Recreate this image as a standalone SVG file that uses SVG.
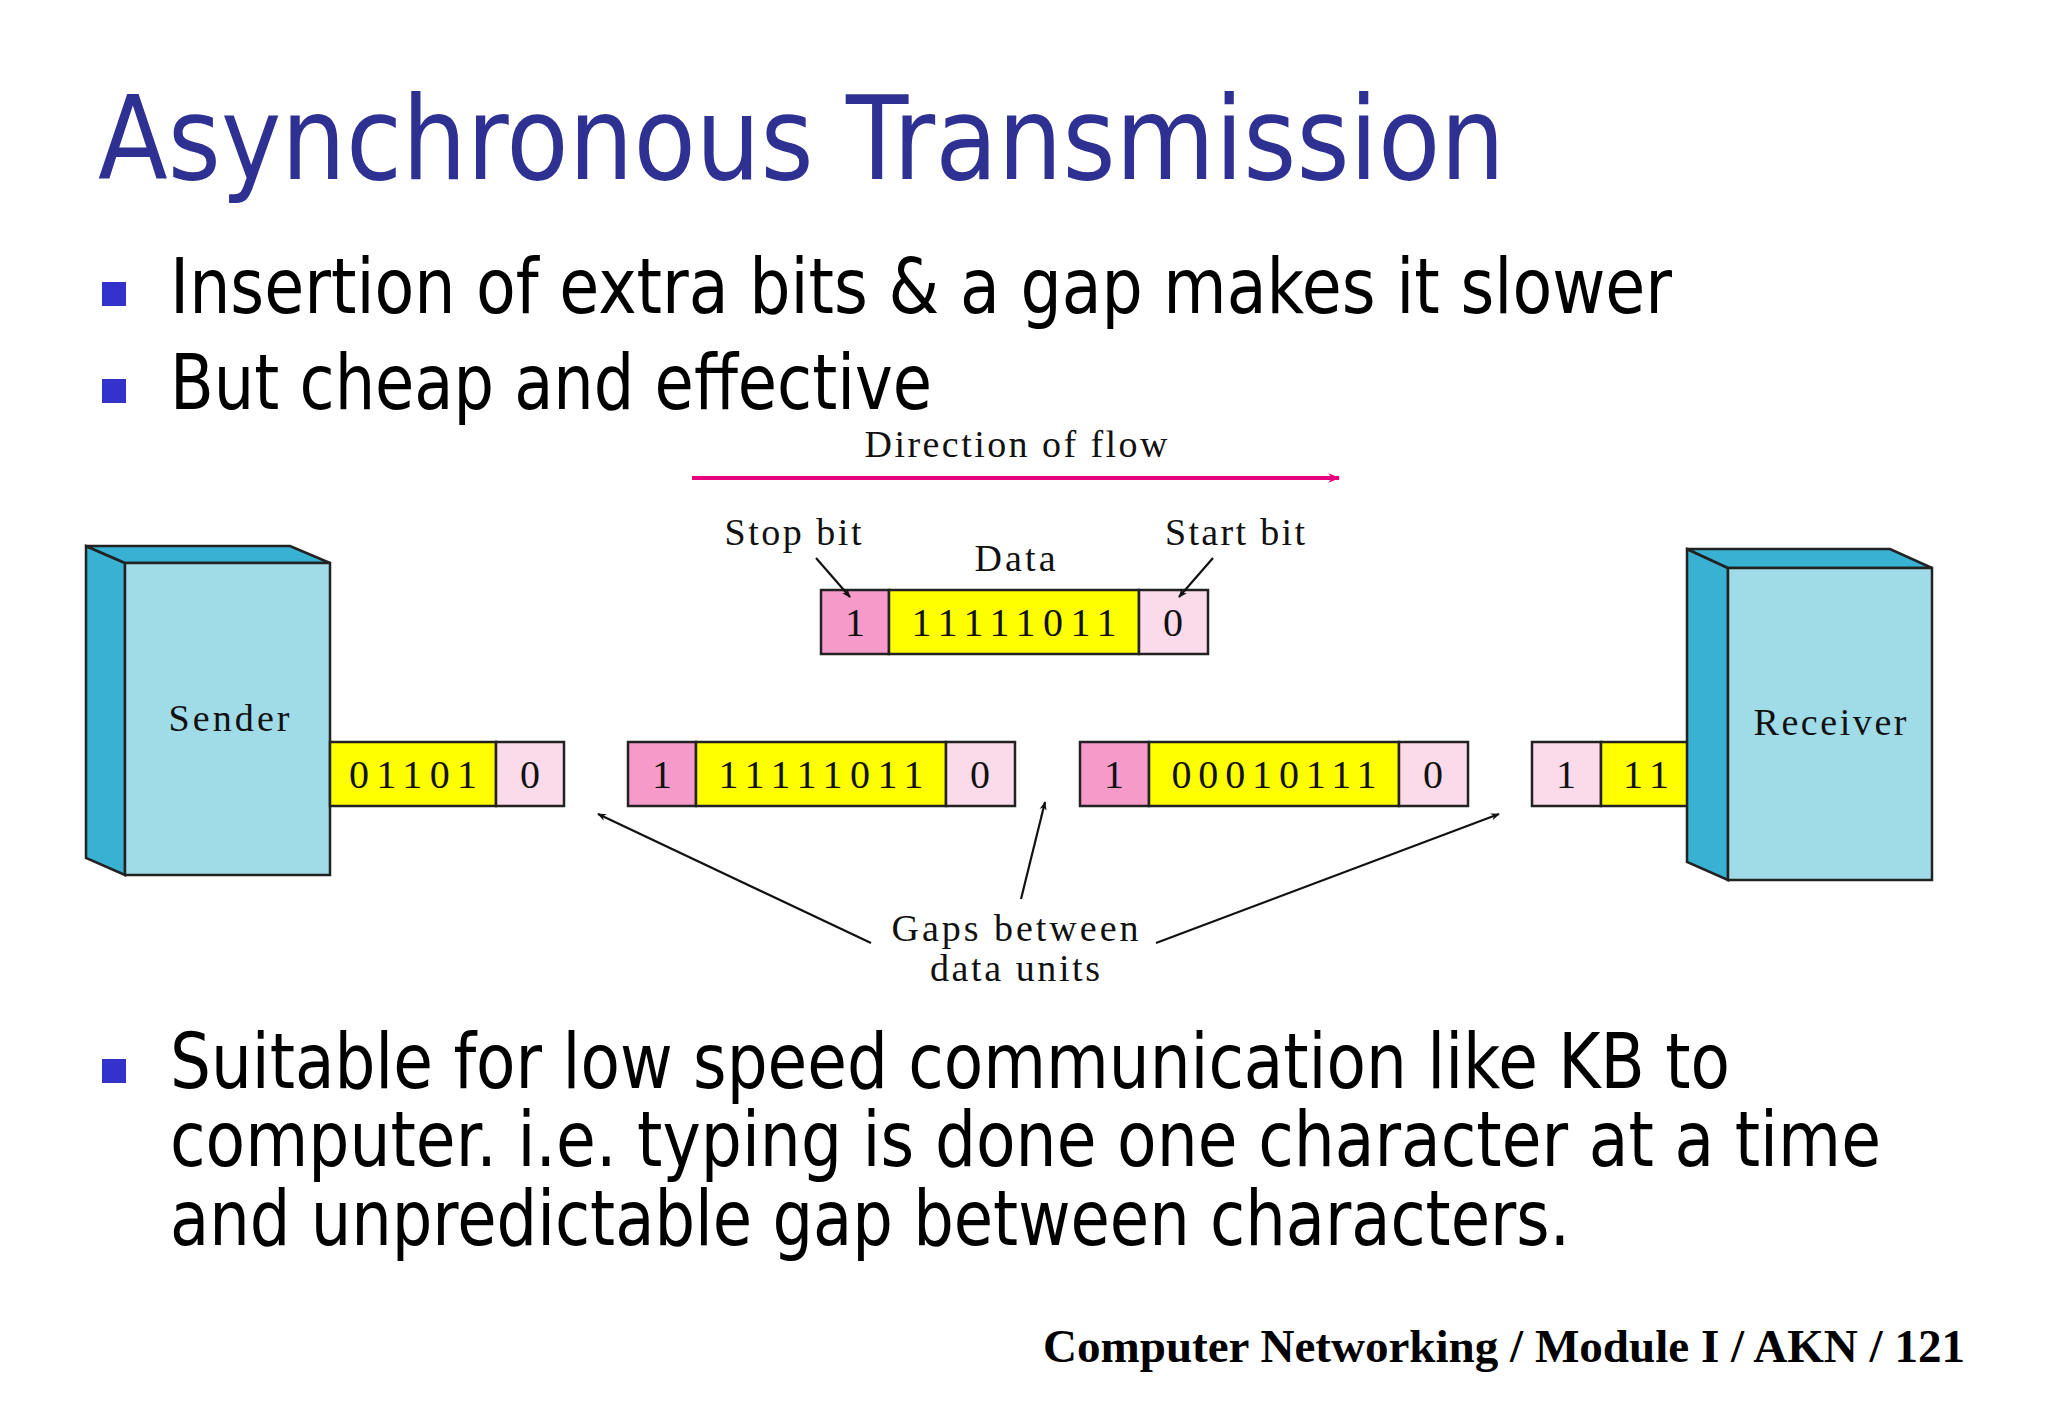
<svg xmlns="http://www.w3.org/2000/svg" width="2048" height="1418" viewBox="0 0 2048 1418">
<style>
.t{font-family:"DejaVu Sans","Open Sans",sans-serif;fill:#000}
.s{font-family:"Liberation Serif","DejaVu Serif",serif;fill:#111;font-size:38px}
.b{font-family:"Liberation Serif",serif;font-size:40px;fill:#111;text-anchor:middle}
.bx{stroke:#222;stroke-width:2.5}
.y{fill:#ffff00}.p{fill:#f59ac9}.lp{fill:#fbdaea}
.ln{stroke:#111;stroke-width:2.2;fill:none;marker-end:url(#ah)}
</style>
<defs>
<marker id="ah" viewBox="0 0 10 10" refX="9" refY="5" markerWidth="9" markerHeight="9" orient="auto" markerUnits="userSpaceOnUse"><path d="M0,1 L10,5 L0,9 L3,5 z" fill="#111"/></marker>
<marker id="ahp" viewBox="0 0 10 10" refX="9" refY="5" markerWidth="14" markerHeight="12" orient="auto" markerUnits="userSpaceOnUse"><path d="M0,1 L10,5 L0,9 L3,5 z" fill="#e6007e"/></marker>
</defs>
<rect width="2048" height="1418" fill="#ffffff"/>
<text class="t" x="98" y="179" font-size="116" style="fill:#2e3192" textLength="1407" lengthAdjust="spacingAndGlyphs">Asynchronous Transmission</text>
<g fill="#3333cc"><rect x="102" y="282" width="24" height="24"/><rect x="102" y="379" width="24" height="24"/><rect x="102" y="1059" width="24" height="24"/></g>
<text class="t" x="170" y="313" font-size="76" textLength="1502" lengthAdjust="spacingAndGlyphs">Insertion of extra bits &amp; a gap makes it slower</text>
<text class="t" x="170" y="409" font-size="76" textLength="762" lengthAdjust="spacingAndGlyphs">But cheap and effective</text>
<text class="t" x="170" y="1088" font-size="76" textLength="1560" lengthAdjust="spacingAndGlyphs">Suitable for low speed communication like KB to</text>
<text class="t" x="170" y="1166" font-size="76" textLength="1711" lengthAdjust="spacingAndGlyphs">computer. i.e. typing is done one character at a time</text>
<text class="t" x="170" y="1245" font-size="76" textLength="1400" lengthAdjust="spacingAndGlyphs">and unpredictable gap between characters.</text>
<text x="1043" y="1362" font-family="Liberation Serif,serif" font-weight="bold" font-size="46" fill="#000" textLength="922" lengthAdjust="spacingAndGlyphs">Computer Networking / Module I / AKN / 121</text>

<g id="sender">
<polygon points="86,546 125,563 125,875 86,858" fill="#38b1d2" class="bx"/>
<polygon points="86,546 290,546 330,563 125,563" fill="#38b1d2" class="bx"/>
<rect x="125" y="563" width="205" height="312" fill="#a0dbe8" class="bx"/>
<text class="s" x="229" y="731" text-anchor="middle" textLength="121">Sender</text>
</g>
<g id="frame-4">
<rect x="1532" y="742" width="69" height="64" class="bx lp"/><rect x="1601" y="742" width="100" height="64" class="bx y"/>
<text class="b" x="1566" y="788">1</text><text class="b" x="1646" y="788" textLength="46">11</text>
</g>
<g id="receiver">
<polygon points="1687,549 1728,568 1728,880 1687,862" fill="#38b1d2" class="bx"/>
<polygon points="1687,549 1890,549 1932,568 1728,568" fill="#38b1d2" class="bx"/>
<rect x="1728" y="568" width="204" height="312" fill="#a0dbe8" class="bx"/>
<text class="s" x="1830" y="735" text-anchor="middle" textLength="153">Receiver</text>
</g>
<g id="flow">
<text class="s" x="1016" y="457" text-anchor="middle" textLength="303">Direction of flow</text>
<line x1="692" y1="478" x2="1339" y2="478" stroke="#e6007e" stroke-width="4" marker-end="url(#ahp)"/>
</g>
<g id="frame-top">
<text class="s" x="793" y="545" text-anchor="middle" textLength="137">Stop bit</text>
<text class="s" x="1015" y="571" text-anchor="middle" textLength="81">Data</text>
<text class="s" x="1235" y="545" text-anchor="middle" textLength="140">Start bit</text>
<rect x="821" y="590" width="68" height="64" class="bx p"/><rect x="889" y="590" width="250" height="64" class="bx y"/><rect x="1139" y="590" width="69" height="64" class="bx lp"/>
<text class="b" x="855" y="636">1</text><text class="b" x="1014" y="636" textLength="205">11111011</text><text class="b" x="1173" y="636">0</text>
</g>
<g id="frame-sender">
<rect x="330" y="742" width="166" height="64" class="bx y"/><rect x="496" y="742" width="68" height="64" class="bx lp"/>
<text class="b" x="413" y="788" textLength="128">01101</text><text class="b" x="530" y="788">0</text>
</g>
<g id="frame-2">
<rect x="628" y="742" width="68" height="64" class="bx p"/><rect x="696" y="742" width="250" height="64" class="bx y"/><rect x="946" y="742" width="69" height="64" class="bx lp"/>
<text class="b" x="662" y="788">1</text><text class="b" x="821" y="788" textLength="205">11111011</text><text class="b" x="980" y="788">0</text>
</g>
<g id="frame-3">
<rect x="1080" y="742" width="69" height="64" class="bx p"/><rect x="1149" y="742" width="250" height="64" class="bx y"/><rect x="1399" y="742" width="69" height="64" class="bx lp"/>
<text class="b" x="1114" y="788">1</text><text class="b" x="1274" y="788" textLength="205">00010111</text><text class="b" x="1433" y="788">0</text>
</g>
<g id="gaps">
<text class="s" x="1015" y="941" text-anchor="middle" textLength="247">Gaps between</text>
<text class="s" x="1015" y="981" text-anchor="middle" textLength="170">data units</text>
</g>
<g id="connectors">
<line class="ln" x1="816" y1="558" x2="850" y2="597"/>
<line class="ln" x1="1213" y1="558" x2="1179" y2="597"/>
<line class="ln" x1="871" y1="943" x2="598" y2="814"/>
<line class="ln" x1="1021" y1="899" x2="1045" y2="802"/>
<line class="ln" x1="1156" y1="943" x2="1499" y2="814"/>
</g>
</svg>
